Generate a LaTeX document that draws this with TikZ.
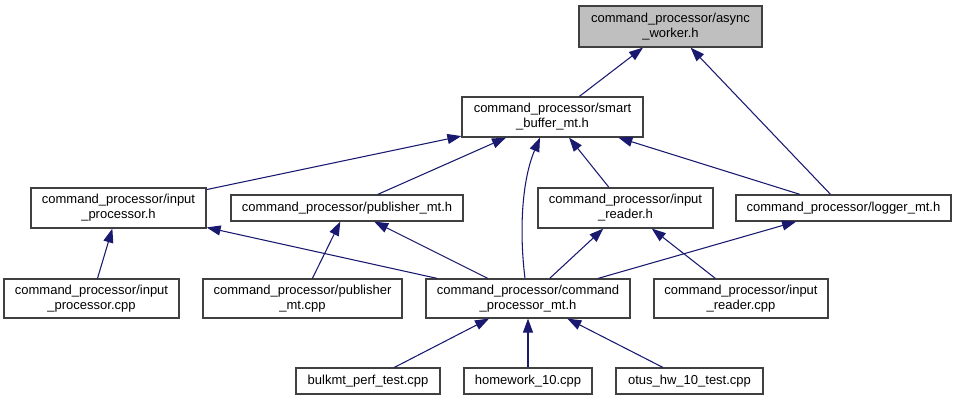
\documentclass[tikz,border=0pt]{standalone}
\usepackage{fontspec}
\setmainfont{Liberation Sans}
\usetikzlibrary{arrows.meta}
\definecolor{edgeblue}{RGB}{25,25,112}
\definecolor{boxgray}{RGB}{191,191,191}
\definecolor{boxline}{RGB}{64,64,64}
\begin{document}
\begin{tikzpicture}[x=0.75pt,y=-0.75pt,
  box/.style={draw=boxline,line width=0.9pt,fill=white,inner sep=0pt,align=center,
    font=\fontsize{9.75}{11.25}\selectfont},
  edge/.style={draw=edgeblue,line width=0.8pt,-{Triangle[length=10.5pt,width=7.5pt]}}]
\useasboundingbox (0,0) rectangle (957,400);
% nodes
\node[box,fill=boxgray,minimum width=137.25pt,minimum height=30.75pt] (aw) at (670.5,26.5) {command\_processor/async\\\_worker.h};
\node[box,minimum width=135.75pt,minimum height=30pt] (sb) at (552.5,117) {command\_processor/smart\\\_buffer\_mt.h};
\node[box,minimum width=131.25pt,minimum height=30pt] (iph) at (118.5,208) {command\_processor/input\\\_processor.h};
\node[box,minimum width=174pt,minimum height=19.5pt] (pmh) at (347,208) {command\_processor/publisher\_mt.h};
\node[box,minimum width=131.25pt,minimum height=30pt] (irh) at (625.5,208) {command\_processor/input\\\_reader.h};
\node[box,minimum width=161.25pt,minimum height=19.5pt] (lmh) at (843.5,208) {command\_processor/logger\_mt.h};
\node[box,minimum width=131.25pt,minimum height=29.25pt] (ipc) at (91.5,298.5) {command\_processor/input\\\_processor.cpp};
\node[box,minimum width=149.25pt,minimum height=29.25pt] (pmc) at (302.5,298.5) {command\_processor/publisher\\\_mt.cpp};
\node[box,minimum width=153pt,minimum height=29.25pt] (cmh) at (528,298.5) {command\_processor/command\\\_processor\_mt.h};
\node[box,minimum width=130.5pt,minimum height=29.25pt] (irc) at (741,298.5) {command\_processor/input\\\_reader.cpp};
\node[box,minimum width=108pt,minimum height=19.5pt] (bpt) at (368,381) {bulkmt\_perf\_test.cpp};
\node[box,minimum width=96pt,minimum height=19.5pt] (hw) at (528,381) {homework\_10.cpp};
\node[box,minimum width=110.25pt,minimum height=19.5pt] (ot) at (689.5,381) {otus\_hw\_10\_test.cpp};
% edges
\draw[edge] (sb) -- (aw);
\draw[edge] (lmh) -- (aw);
\draw[edge] (iph) -- (sb);
\draw[edge] (pmh) -- (sb);
\draw[edge] (cmh.north -| 525,0) .. controls (519,230) and (522,180) .. (sb.south -| 540,0);
\draw[edge] (irh) -- (sb);
\draw[edge] (lmh) -- (sb);
\draw[edge] (ipc) -- (iph);
\draw[edge] (cmh) -- (iph);
\draw[edge] (pmc) -- (pmh);
\draw[edge] (cmh) -- (pmh);
\draw[edge] (cmh) -- (irh);
\draw[edge] (cmh) -- (lmh);
\draw[edge] (irc) -- (irh);
\draw[edge] (bpt) -- (cmh);
\draw[edge] (hw) -- (cmh);
\draw[edge] (ot) -- (cmh);
\end{tikzpicture}
\end{document}
